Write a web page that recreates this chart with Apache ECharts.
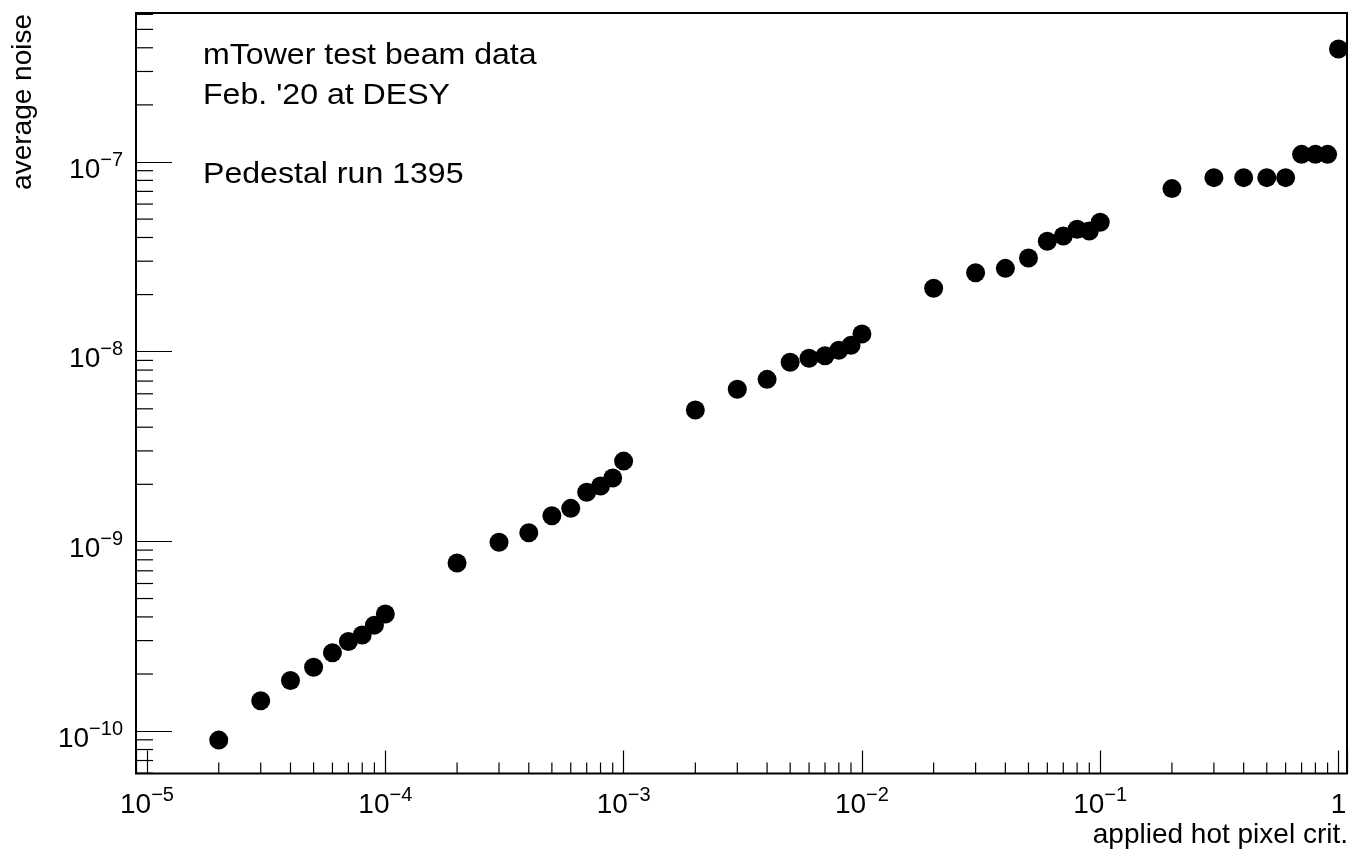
<!DOCTYPE html>
<html><head><meta charset="utf-8">
<script src="https://cdn.jsdelivr.net/npm/echarts@6/dist/echarts.min.js"></script>
<style>html,body{margin:0;padding:0;background:#fff}#c{width:1350px;height:851px}</style>
</head><body><div id="c"></div><script>
// hot pixel criterion (x) and average noise (y)
const xValues = [
  2e-5, 3e-5, 4e-5, 5e-5, 6e-5, 7e-5, 8e-5, 9e-5, 1e-4,
  2e-4, 3e-4, 4e-4, 5e-4, 6e-4, 7e-4, 8e-4, 9e-4, 1e-3,
  2e-3, 3e-3, 4e-3, 5e-3, 6e-3, 7e-3, 8e-3, 9e-3, 1e-2,
  2e-2, 3e-2, 4e-2, 5e-2, 6e-2, 7e-2, 8e-2, 9e-2, 1e-1,
  0.2, 0.3, 0.4, 0.5, 0.6, 0.7, 0.8, 0.9, 1.0
];
const yValues = [
  8.97e-11, 1.445e-10, 1.85e-10, 2.17e-10, 2.59e-10, 2.97e-10, 3.21e-10, 3.62e-10, 4.14e-10,
  7.69e-10, 9.89e-10, 1.11e-9, 1.366e-9, 1.494e-9, 1.815e-9, 1.96e-9, 2.16e-9, 2.65e-9,
  4.93e-9, 6.34e-9, 7.15e-9, 8.79e-9, 9.23e-9, 9.53e-9, 1.017e-8, 1.08e-8, 1.24e-8,
  2.16e-8, 2.61e-8, 2.75e-8, 3.12e-8, 3.82e-8, 4.07e-8, 4.42e-8, 4.33e-8, 4.81e-8,
  7.24e-8, 8.27e-8, 8.27e-8, 8.27e-8, 8.27e-8, 1.097e-7, 1.097e-7, 1.097e-7, 3.94e-7
];
// tick label exponents (labels are 10^e, e=0 shown as "1")
const xTickExponents = [-5, -4, -3, -2, -1, 0];
const yTickExponents = [-10, -9, -8, -7];
const xRange = [8.99e-6, 1.0856];
const yRange = [5.98e-11, 6.10e-7];
const xTitle = 'applied hot pixel crit.';
const yTitle = 'average noise';
const notes = ['mTower test beam data', "Feb. '20 at DESY", 'Pedestal run 1395'];

const FONT = '"Liberation Sans", Arial, Helvetica, sans-serif';

function minorTicks(range) {
  const out = [];
  const lo = Math.floor(Math.log10(range[0])), hi = Math.ceil(Math.log10(range[1]));
  for (let k = lo; k <= hi; k++) {
    for (let m = 2; m <= 9; m++) {
      const v = m * Math.pow(10, k);
      if (v > range[0] && v < range[1]) out.push(v);
    }
  }
  return out;
}
const xMinor = minorTicks(xRange);
const yMinor = minorTicks(yRange);

function fmt(exps) {
  return function (v) {
    const l = Math.log10(v);
    const e = Math.round(l);
    if (Math.abs(l - e) > 1e-6 || exps.indexOf(e) < 0) return '';
    if (e === 0) return '{b|1}';
    return '{b|10}{s|' + (e < 0 ? '\u2212' : '') + Math.abs(e) + '}';
  };
}
const rich = {
  b: { fontFamily: FONT, fontSize: 28, lineHeight: 34, verticalAlign: 'bottom', color: '#000' },
  s: { fontFamily: FONT, fontSize: 20, lineHeight: 20, verticalAlign: 'top', color: '#000' }
};

const noteStyle = (t) => ({ text: t, font: '30px ' + FONT, fill: '#000', textAlign: 'left', textVerticalAlign: 'middle' });

const chart = echarts.init(document.getElementById('c'), null, { renderer: 'canvas' });
chart.setOption({
  backgroundColor: '#fff',
  animation: false,
  grid: { left: 136, right: 3, top: 13, bottom: 77.5, show: true, borderColor: '#000', borderWidth: 2, backgroundColor: 'transparent', outerBoundsMode: 'none' },
  xAxis: {
    type: 'log', logBase: 10, min: xRange[0], max: xRange[1],
    axisLine: { show: false },
    axisTick: { show: true, inside: true, length: 23, lineStyle: { color: '#000', width: 1.2 } },
    splitLine: { show: false },
    axisLabel: { show: true, margin: 12, formatter: fmt(xTickExponents), rich: rich, showMinLabel: true, showMaxLabel: true, hideOverlap: false }
  },
  yAxis: {
    type: 'log', logBase: 10, min: yRange[0], max: yRange[1],
    axisLine: { show: false },
    axisTick: { show: true, inside: true, length: 36, lineStyle: { color: '#000', width: 1.2 } },
    splitLine: { show: false },
    axisLabel: { show: true, margin: 13, padding: [10, 0, 0, 0], formatter: fmt(yTickExponents), rich: rich, hideOverlap: false }
  },
  series: [
    {
      type: 'custom', silent: true, z: 3,
      data: xMinor.map(v => [v, yRange[0]]),
      renderItem: function (p, api) {
        const c = api.coord([api.value(0), api.value(1)]);
        return { type: 'line', shape: { x1: c[0], y1: c[1], x2: c[0], y2: c[1] - 11 }, style: { stroke: '#000', lineWidth: 1.2 } };
      }
    },
    {
      type: 'custom', silent: true, z: 3,
      data: yMinor.map(v => [xRange[0], v]),
      renderItem: function (p, api) {
        const c = api.coord([api.value(0), api.value(1)]);
        return { type: 'line', shape: { x1: c[0], y1: c[1], x2: c[0] + 17, y2: c[1] }, style: { stroke: '#000', lineWidth: 1.2 } };
      }
    },
    {
      type: 'scatter', z: 10, symbol: 'circle', symbolSize: 19,
      itemStyle: { color: '#000', opacity: 1 },
      emphasis: { disabled: true },
      data: xValues.map((x, i) => [x, yValues[i]])
    }
  ],
  graphic: [
    { type: 'text', x: 203, y: 56, scaleX: 1.07, silent: true, style: noteStyle(notes[0]) },
    { type: 'text', x: 203, y: 95.5, scaleX: 1.07, silent: true, style: noteStyle(notes[1]) },
    { type: 'text', x: 203, y: 174.7, scaleX: 1.07, silent: true, style: noteStyle(notes[2]) },
    { type: 'text', x: 1348, y: 835, silent: true, style: { text: xTitle, font: '28px ' + FONT, fill: '#000', textAlign: 'right', textVerticalAlign: 'middle' } },
    { type: 'text', x: 23, y: 14, rotation: Math.PI / 2, silent: true, style: { text: yTitle, font: '28px ' + FONT, fill: '#000', textAlign: 'right', textVerticalAlign: 'middle' } }
  ]
});
</script></body></html>
